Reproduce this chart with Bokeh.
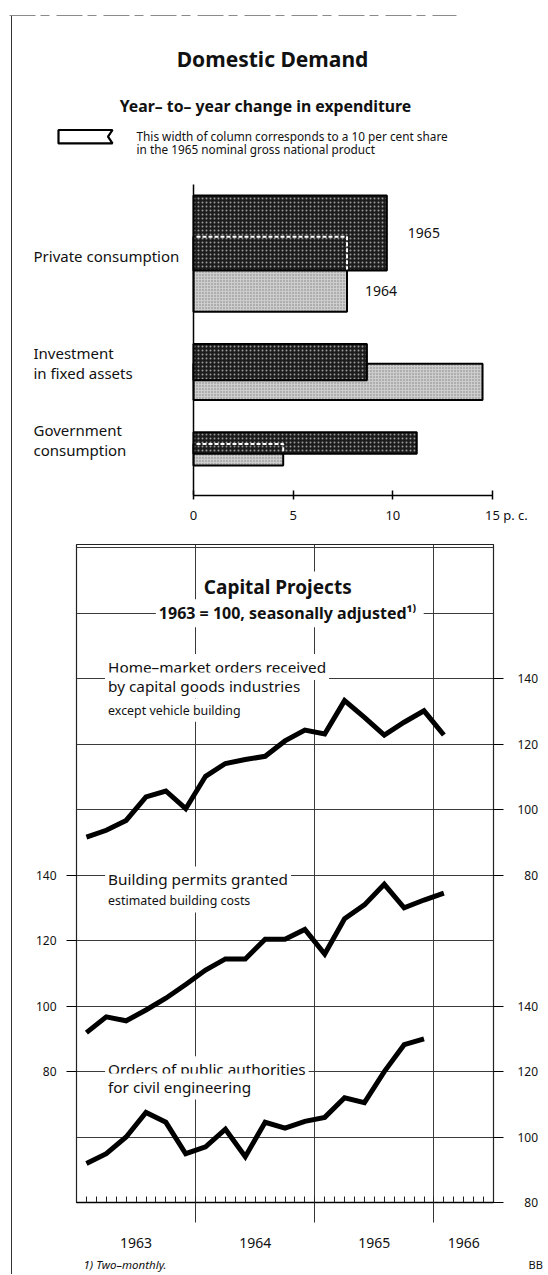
from bokeh.plotting import figure
from bokeh.models import Range1d, LinearAxis, FixedTicker, Label
from bokeh.embed import file_html
from bokeh.resources import INLINE
from bokeh.core.properties import value

FONT = "Noto Sans"
INK = "#111111"

# ---------------- data: Domestic Demand ----------------
categories = ["Private consumption", "Investment\nin fixed assets", "Government\nconsumption"]
change_1965 = [9.7, 8.7, 11.2]      # year-to-year change, per cent
change_1964 = [7.7, 14.5, 4.5]
gnp_share = [56, 27, 16]            # share in 1965 nominal GNP, per cent (bar thickness)
legend_share = 10
bar_ticks = [0, 5, 10, 15]
bar_unit = "p. c."
bar_years = ["1965", "1964"]

# ---------------- data: Capital Projects ----------------
periods = ["1963-02", "1963-04", "1963-06", "1963-08", "1963-10", "1963-12",
           "1964-02", "1964-04", "1964-06", "1964-08", "1964-10", "1964-12",
           "1965-02", "1965-04", "1965-06", "1965-08", "1965-10", "1965-12",
           "1966-02"]
home_market_orders = [91.6, 93.7, 96.7, 103.9, 105.7, 100.3, 110.2, 114.1, 115.3, 116.3,
                      121.0, 124.3, 123.1, 133.3, 128.2, 122.8, 126.7, 130.2, 122.8]
building_permits = [91.9, 96.7, 95.5, 98.8, 102.4, 106.6, 111.0, 114.4, 114.4, 120.4,
                    120.4, 123.4, 115.9, 126.7, 130.9, 137.2, 130.0, 132.4, 134.5]
public_orders = [91.9, 94.9, 100.0, 107.5, 104.5, 94.9, 97.0, 102.4, 94.0, 104.5,
                 102.7, 104.8, 106.0, 112.0, 110.5, 120.0, 128.2, 130.0]
index_ticks = [80, 100, 120, 140]
years = [1963, 1964, 1965, 1966]

# ---------------- page geometry ----------------
W = 548
PAGE_X0, PAGE_Y0 = 0, 0
H1, H2, H3 = 530, 720, 24
LINE_GRAD = "linear-gradient(to right, transparent 11px, #333 11px, #333 12px, transparent 12px)"
PAGE_LINE = {"background": LINE_GRAD}
PAGE_LINE_TOP = {"background": LINE_GRAD + " 0 15px / 100% 100% no-repeat"}

# ======================= figure 1 =======================
ZERO_X = 193            # page x of 0 p.c.
PX_PER_PC = 299 / 15
BAR_TOP = 184           # page y where bar area / axis line begins
SHARE_PX = 1.34         # px per GNP-share point
AXIS_Y = 495


def bx(page_x):
    return (page_x - ZERO_X) / PX_PER_PC


def by(page_y):
    return (page_y - BAR_TOP) / SHARE_PX


p1 = figure(width=W, height=H1,
            x_range=Range1d(bx(PAGE_X0), bx(PAGE_X0 + W)),
            y_range=Range1d(by(AXIS_Y), by(PAGE_Y0)),
            y_axis_location=None, output_backend="svg", toolbar_location=None,
            min_border_left=0, min_border_right=0, min_border_top=0,
            min_border_bottom=H1 - (AXIS_Y - PAGE_Y0),
            background_fill_color=None, border_fill_color=None, styles=PAGE_LINE_TOP)
p1.outline_line_color = None
p1.grid.visible = False

# top border of the page (scan frame)
p1.segment(x0=[bx(9)], y0=[by(15)], x1=[bx(456)], y1=[by(15)],
           line_color="#8a8a8a", line_width=1, line_dash="26 5 9 7")

# bar layout (positions derived from shares)
GAP = 24
TOP_PAD = 8.2
SHIFT = 0.55
t65, b65, t64, b64 = [], [], [], []
yy = TOP_PAD
for s in gnp_share:
    t65.append(yy)
    b65.append(yy + s)
    t64.append(yy + SHIFT * s)
    b64.append(yy + SHIFT * s + s)
    yy = yy + SHIFT * s + s + GAP

p1.quad(left=[0] * 3, right=change_1964, top=t64, bottom=b64,
        fill_color="#cdcdcd", hatch_pattern=".", hatch_color="#222222",
        hatch_scale=3, hatch_alpha=0.45, line_color="black", line_width=2)
p1.quad(left=[0] * 3, right=change_1965, top=t65, bottom=b65,
        fill_color="#1c1c1c", hatch_pattern=".", hatch_color="white",
        hatch_scale=4, hatch_alpha=0.55, line_color="black", line_width=2)

# dashed outline of hidden part of 1964 bar
dxs, dys = [], []
for i in range(3):
    if change_1964[i] < change_1965[i]:
        dxs.append([0.15, change_1964[i], change_1964[i]])
        dys.append([t64[i], t64[i], b65[i] - 0.8])
p1.multi_line(xs=dxs, ys=dys, line_color="white", line_width=2, line_dash="4 2")

# axis line (vertical)
p1.segment(x0=[0], y0=[0], x1=[0], y1=[by(AXIS_Y)], line_color="black", line_width=1.5)

# year labels next to bars
p1.text(x=[change_1965[0]], y=[(t65[0] + b65[0]) / 2], text=[bar_years[0]],
        x_offset=21, text_baseline="middle", text_align="left",
        text_font=value(FONT), text_font_size="14px", text_color=INK)
p1.text(x=[change_1964[0]], y=[(b65[0] + b64[0]) / 2], text=[bar_years[1]],
        x_offset=18, text_baseline="middle", text_align="left",
        text_font=value(FONT), text_font_size="14px", text_color=INK)

# category labels (left aligned)
lx, ly, lt = [], [], []
LINE_GAP = 20 / SHARE_PX
for i, cat in enumerate(categories):
    lines = cat.split("\n")
    n = len(lines)
    centre = (t65[i] + b64[i]) / 2 + ((2 if n == 1 else -9) / SHARE_PX)
    for j, ln in enumerate(lines):
        lx.append(bx(33))
        ly.append(centre + (j - (n - 1) / 2) * LINE_GAP)
        lt.append(ln)
p1.text(x=lx, y=ly, text=lt, text_baseline="middle", text_align="left",
        text_font=value(FONT), text_font_size="15px", text_color=INK)

# titles
p1.text(x=[bx(272)], y=[by(58)], text=["Domestic Demand"], text_align="center",
        text_baseline="middle", text_font=value(FONT), text_font_size="21px",
        text_font_style="bold", text_color=INK)
p1.text(x=[bx(265)], y=[by(105)], text=["Year\u2013 to\u2013 year change in expenditure"],
        text_align="center", text_baseline="middle", text_font=value(FONT),
        text_font_size="15.8px", text_font_style="bold", text_color=INK)

# legend icon: thickness = 10 per cent share
it = by(129.5)
ib = it + legend_share
il, ir = bx(58), bx(112)
notch = 4.5 / PX_PER_PC
p1.patch(x=[il, ir, ir - notch, ir, il], y=[it, it, (it + ib) / 2, ib, ib],
         fill_color="white", line_color="black", line_width=2.2)
p1.text(x=[bx(136), bx(136)], y=[by(135), by(148)],
        text=["This width of column corresponds to  a  10 per cent share",
              "in the 1965 nominal gross  national product"],
        text_baseline="middle", text_align="left", text_font=value(FONT),
        text_font_size="11.8px", text_color=INK)

ax1 = p1.xaxis[0]
ax1.ticker = FixedTicker(ticks=bar_ticks)
ax1.bounds = (bar_ticks[0], bar_ticks[-1])
ax1.major_tick_in = 5
ax1.major_tick_out = 4
ax1.minor_tick_line_color = None
ax1.axis_line_width = 1.5
ax1.major_tick_line_width = 1.5
ax1.major_label_standoff = 6
ax1.major_label_text_font = FONT
ax1.major_label_text_font_size = "13px"
ax1.major_label_text_color = INK
# last tick carries the unit; invisible padding keeps the number centred on its tick
ax1.major_label_overrides = {bar_ticks[-1]: "\u2007\u2007\u2007\u00a0\u2009" + str(bar_ticks[-1]) + " " + bar_unit}

# ======================= figure 2 =======================
FIG2_TOP = PAGE_Y0 + H1
FRAME_L, FRAME_R, FRAME_T, FRAME_B = 76, 493, 544, 1215

TOP_SHIFT = 100   # home-market orders: value v drawn at v + 100 on base scale
MID_SHIFT = 40    # building permits: value v drawn at v + 40 on base scale
Y_LO, Y_HI = 80, 281
X_LO, X_HI = years[0], years[-1] + 0.5

p2 = figure(width=W, height=H2,
            x_range=Range1d(X_LO, X_HI),
            y_range=Range1d(Y_LO, Y_HI),
            output_backend="svg", toolbar_location=None,
            min_border_left=FRAME_L - PAGE_X0,
            min_border_right=(PAGE_X0 + W) - FRAME_R,
            min_border_top=FRAME_T - FIG2_TOP,
            min_border_bottom=H2 - (FRAME_B - FIG2_TOP),
            background_fill_color="white", border_fill_color=None, styles=PAGE_LINE)
p2.extra_y_ranges = {"top": Range1d(Y_LO - TOP_SHIFT, Y_HI - TOP_SHIFT),
                     "mid": Range1d(Y_LO - MID_SHIFT, Y_HI - MID_SHIFT)}
p2.outline_line_color = "#222222"
p2.outline_line_width = 1.2

p2.xgrid.ticker = FixedTicker(ticks=years[1:])
p2.ygrid.ticker = FixedTicker(ticks=list(range(Y_LO + 20, Y_HI, 20)))
p2.grid.grid_line_color = "#3a3a3a"
p2.grid.grid_line_width = 1

# left axis: building permits
lax = p2.yaxis[0]
lax.ticker = FixedTicker(ticks=[v + MID_SHIFT for v in index_ticks])
lax.major_label_overrides = {v + MID_SHIFT: str(v) for v in index_ticks}
lax.axis_line_color = None
lax.major_tick_out = 10
lax.major_tick_in = 0
lax.minor_tick_line_color = None
lax.major_label_standoff = 10
lax.major_label_text_font = FONT
lax.major_label_text_font_size = "12px"
lax.major_label_text_color = INK

# right axis: public orders (lower) and home-market orders (upper)
rticks = [v for v in index_ticks] + [v + TOP_SHIFT for v in index_ticks]
rover = {}
for v in index_ticks:
    lab = ("\u2007" + str(v)) if v < 100 else str(v)
    rover[v] = lab
    rover[v + TOP_SHIFT] = lab
rax = LinearAxis(ticker=FixedTicker(ticks=rticks), major_label_overrides=rover,
                 axis_line_color=None, major_tick_out=10, major_tick_in=0,
                 minor_tick_line_color=None, major_label_standoff=14,
                 major_label_text_font=FONT, major_label_text_font_size="12px",
                 major_label_text_color=INK)
p2.add_layout(rax, "right")

# bottom axis: year labels centred in each year, year dividers as outward minor ticks
mid_years = [(max(y, X_LO) + min(y + 1, X_HI)) / 2 for y in years]
bax = p2.xaxis[0]
bax.ticker = FixedTicker(ticks=mid_years, minor_ticks=years[1:])
bax.major_label_overrides = {m: str(y) for m, y in zip(mid_years, years)}
bax.major_tick_line_color = None
bax.major_tick_in = 0
bax.major_tick_out = 0
bax.minor_tick_in = 0
bax.minor_tick_out = 20
bax.minor_tick_line_color = "#333333"
bax.minor_tick_line_width = 1
bax.axis_line_width = 1.5
bax.major_label_standoff = 15
bax.major_label_text_font = FONT
bax.major_label_text_font_size = "14px"
bax.major_label_text_color = INK

# month ticks drawn on the bottom edge of the frame
months = [X_LO + m / 12 for m in range(1, int((X_HI - X_LO) * 12))]
max_ = LinearAxis(ticker=FixedTicker(ticks=[], minor_ticks=months), fixed_location=Y_LO,
                  axis_line_color=None, major_tick_line_color=None,
                  minor_tick_in=6, minor_tick_out=0, minor_tick_line_color="#222222",
                  minor_tick_line_width=1)
p2.add_layout(max_, "below")


def period_x(p):
    y, m = p.split("-")
    return int(y) + (int(m) - 1) / 12


xs = [period_x(p) for p in periods]

p2.line(xs[:len(home_market_orders)], home_market_orders, y_range_name="top",
        line_color="black", line_width=5, line_join="miter")
p2.line(xs[:len(building_permits)], building_permits, y_range_name="mid",
        line_color="black", line_width=5, line_join="miter")
p2.line(xs[:len(public_orders)], public_orders,
        line_color="black", line_width=5, line_join="miter")


def lab(x, y, text, rng="default", size="15.3px", style="normal", align="left", pad=3):
    p2.add_layout(Label(x=x, y=y, y_range_name=rng, text=text, text_align=align,
                        text_baseline="middle", text_font=FONT, text_font_size=size,
                        text_font_style=style, text_color=INK,
                        background_fill_color="white", background_fill_alpha=1.0,
                        padding=pad))


lab(1964.71, 167.9, "Capital  Projects", rng="top", size="19px", style="bold", align="center")
lab(1964.79, 160.0, "1963 = 100, seasonally  adjusted\u00b9\u207e", rng="top", size="16px",
    style="bold", align="center")
lab(1963.24, 143.6, "Home\u2013market orders received", rng="top")
lab(1963.24, 137.9, "by capital goods industries", rng="top")
lab(1963.24, 130.4, "except vehicle building", rng="top", size="12.4px")
lab(1963.24, 138.7, "Building permits granted", rng="mid")
lab(1963.24, 132.1, "estimated building costs", rng="mid", size="12.4px")
lab(1963.24, 120.7, "Orders of public authorities")
lab(1963.24, 115.4, "for civil engineering")

# ======================= figure 3 (footnote row) =======================
PX_PER_YEAR = (FRAME_R - FRAME_L) / (X_HI - X_LO)
p3 = figure(width=W, height=H3,
            x_range=Range1d(X_LO - (FRAME_L - PAGE_X0) / PX_PER_YEAR,
                            X_HI + (PAGE_X0 + W - FRAME_R) / PX_PER_YEAR),
            y_range=Range1d(0, 1), x_axis_location=None, y_axis_location=None,
            output_backend="svg", toolbar_location=None,
            min_border_left=0, min_border_right=0, min_border_top=0, min_border_bottom=0,
            background_fill_color=None, border_fill_color=None, styles=PAGE_LINE)
p3.outline_line_color = None
p3.grid.visible = False
p3.text(x=[X_LO], y=[0.42], text=["1) Two\u2013monthly."], x_offset=7,
        text_align="left", text_baseline="middle", text_font=value(FONT),
        text_font_size="11.5px", text_font_style="italic", text_color=INK)
p3.text(x=[X_HI], y=[0.42], text=["BB"], x_offset=35,
        text_align="left", text_baseline="middle", text_font=value(FONT),
        text_font_size="11px", text_color=INK)

open("out.html", "w").write(file_html([p1, p2, p3], INLINE))
